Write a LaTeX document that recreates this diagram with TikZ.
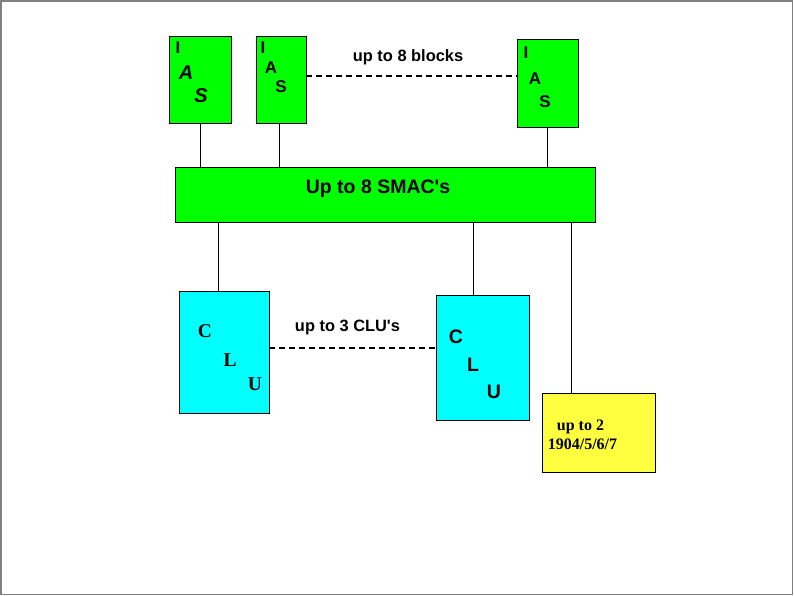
\documentclass[tikz,border=0pt]{standalone}
\usepackage{fontspec}
\setmainfont{Liberation Serif}
\newfontfamily\arial{Liberation Sans}
\definecolor{bgreen}{RGB}{0,255,0}
\definecolor{bcyan}{RGB}{0,255,255}
\definecolor{byellow}{RGB}{255,255,64}
\begin{document}
\begin{tikzpicture}[x=1pt,y=-1pt,
  box/.style={draw=black,line width=0.8pt,inner sep=0pt,minimum width=#1},
  gbox/.style={fill=bgreen},
  cbox/.style={fill=bcyan},
  ybox/.style={fill=byellow},
  ias/.style={font=\arial\bfseries\fontsize{17}{17}\selectfont,inner sep=0pt},
  iasit/.style={font=\arial\bfseries\itshape\fontsize{20}{20}\selectfont,inner sep=0pt},
  clus/.style={font=\bfseries\fontsize{19.5}{19.5}\selectfont,inner sep=0pt},
  clua/.style={font=\arial\bfseries\fontsize{19.5}{19.5}\selectfont,inner sep=0pt},
  lbl/.style={font=\arial\bfseries\fontsize{16.4}{16.4}\selectfont,inner sep=0pt},
  conn/.style={draw=black,line width=0.8pt},
  dashline/.style={draw=black,line width=2pt,dash pattern=on 6pt off 4pt}
  ]
\useasboundingbox (0,0) rectangle (794,596);
\draw[gray,line width=1.5pt] (1,1) rectangle (792.5,594.5);
% IAS blocks
\node[box=62pt,gbox,minimum height=87pt] (ias1) at (200,79.5) {};
\node[box=50pt,gbox,minimum height=87pt] (ias2) at (281,79.5) {};
\node[box=61pt,gbox,minimum height=88pt] (ias3) at (547.5,83) {};
\node[ias] (i1) at (178,48) {I};
\node[iasit] (a1) at (186,72.5) {A};
\node[iasit] (s1) at (201,96) {S};
\node[ias] (i2) at (263,48) {I};
\node[ias] (a2) at (271,68) {A};
\node[ias] (s2) at (281,87) {S};
\node[ias] (i3) at (526,53) {I};
\node[ias] (a3) at (535,79) {A};
\node[ias] (s3) at (545,102) {S};
\node[lbl] (blk) at (408,57) {up to 8 blocks};
% SMAC
\node[box=420pt,gbox,minimum height=55pt] (smac) at (385,194.5) {};
\node[font=\arial\bfseries\fontsize{19.5}{19.5}\selectfont,inner sep=0pt] (smact) at (378,188.5) {Up to 8 SMAC's};
% CLUs
\node[box=90pt,cbox,minimum height=122pt] (clu1) at (224,352) {};
\node[box=93pt,cbox,minimum height=125pt] (clu2) at (482.5,357.5) {};
\node[clus] (c1) at (205,331) {C};
\node[clus] (l1) at (230,360) {L};
\node[clus] (u1) at (255,384) {U};
\node[clua] (c2) at (456,337) {C};
\node[clua] (l2) at (473,365) {L};
\node[clua] (u2) at (494,392) {U};
\node[lbl] (clul) at (347.5,327) {up to 3 CLU's};
% yellow
\node[box=113pt,ybox,minimum height=79pt] (ylw) at (598.5,432.5) {};
\node[font=\bfseries\fontsize{16}{16}\selectfont,inner sep=0pt] (y1) at (580.5,427) {up to 2};
\node[font=\bfseries\fontsize{16}{16}\selectfont,inner sep=0pt] (y2) at (582.5,444) {1904/5/6/7};
% connectors
\draw[conn] (ias1.south) -- (ias1.south |- smac.north);
\draw[conn] ([xshift=-2pt]ias2.south) -- ([xshift=-2pt]ias2.south |- smac.north);
\draw[conn] (ias3.south) -- (ias3.south |- smac.north);
\draw[conn] ([xshift=-6pt]clu1.north) -- ([xshift=-6pt]clu1.north |- smac.south);
\draw[conn] ([xshift=-9.5pt]clu2.north) -- ([xshift=-9.5pt]clu2.north |- smac.south);
\draw[conn] ([xshift=-27.5pt]ylw.north) -- ([xshift=-27.5pt]ylw.north |- smac.south);
\draw[dashline] ([yshift=3.5pt]ias2.east) -- ([yshift=3.5pt]ias2.east -| ias3.west);
\draw[dashline] ([yshift=4pt]clu1.east) -- ([yshift=4pt]clu1.east -| clu2.west);
\end{tikzpicture}
\end{document}
